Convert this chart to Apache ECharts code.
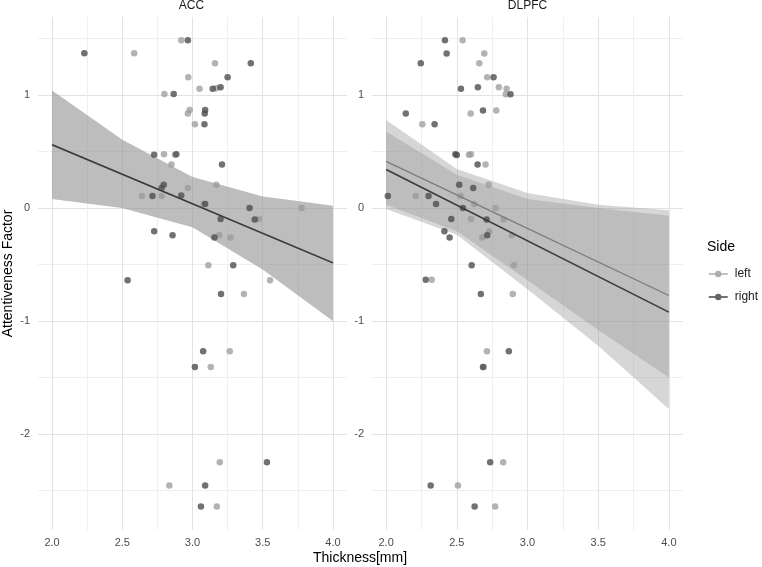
<!DOCTYPE html>
<html>
<head>
<meta charset="utf-8">
<script src="https://cdn.jsdelivr.net/npm/echarts@6/dist/echarts.min.js"></script>
<style>
  html, body { margin: 0; padding: 0; background: #fff; }
  #chart { width: 762px; height: 567px; }
</style>
</head>
<body>
<div id="chart"></div>
<script>
// facets and ticks
const panels = ["ACC", "DLPFC"];
const xLabelTicks = [2.0, 2.5, 3.0, 3.5, 4.0];
const xGridTicks = [2.0, 2.25, 2.5, 2.75, 3.0, 3.25, 3.5, 3.75, 4.0];
const yLabelTicks = [-2, -1, 0, 1];
const yGridTicks = [-2.5, -2, -1.5, -1, -0.5, 0, 0.5, 1, 1.5];

// ACC points [thickness, factor]
const accLeft = [
  [2.585, 1.37], [2.92, 1.485], [3.16, 1.28], [2.97, 1.156], [3.05, 1.056], [3.17, 1.06],
  [2.80, 1.009], [2.98, 0.868], [2.967, 0.835], [3.017, 0.741], [2.797, 0.475], [2.875, 0.47],
  [2.85, 0.385], [3.17, 0.205], [2.967, 0.176], [2.64, 0.106], [2.78, 0.106], [3.078, 0.035],
  [3.776, 0.0], [3.474, -0.097], [3.19, -0.242], [3.27, -0.262], [3.113, -0.506], [3.552, -0.639],
  [3.366, -0.762], [3.265, -1.268], [3.13, -1.407], [3.194, -2.25], [2.835, -2.457], [3.173, -2.643]
];
const accRight = [
  [2.23, 1.37], [2.967, 1.485], [3.415, 1.28], [3.25, 1.156], [3.144, 1.056], [3.20, 1.068],
  [2.866, 1.009], [3.09, 0.868], [3.087, 0.835], [3.085, 0.741], [2.727, 0.47], [2.885, 0.475],
  [3.21, 0.385], [2.795, 0.205], [2.78, 0.176], [2.715, 0.106], [2.92, 0.11], [3.09, 0.035],
  [3.406, 0.0], [3.20, -0.097], [3.443, -0.103], [2.727, -0.206], [2.858, -0.242], [3.156, -0.262],
  [3.29, -0.506], [2.538, -0.639], [3.203, -0.762], [3.076, -1.268], [3.017, -1.407], [3.53, -2.25],
  [3.09, -2.457], [3.06, -2.643]
];

// DLPFC points
const dlpfcLeft = [
  [2.541, 1.485], [2.694, 1.368], [2.659, 1.28], [2.715, 1.156], [2.797, 1.068], [2.852, 1.056],
  [2.847, 1.006], [2.598, 0.835], [2.779, 0.862], [2.256, 0.741], [2.586, 0.47], [2.60, 0.476],
  [2.703, 0.385], [2.725, 0.205], [2.21, 0.106], [2.527, 0.106], [2.623, 0.035], [2.774, 0.0],
  [2.60, -0.097], [2.831, -0.103], [2.729, -0.206], [2.68, -0.262], [2.889, -0.242], [2.905, -0.506],
  [2.322, -0.636], [2.896, -0.762], [2.713, -1.268], [2.69, -1.407], [2.828, -2.25], [2.508, -2.457],
  [2.771, -2.643]
];
const dlpfcRight = [
  [2.416, 1.485], [2.428, 1.368], [2.245, 1.28], [2.76, 1.156], [2.529, 1.056], [2.649, 1.068],
  [2.88, 1.006], [2.139, 0.835], [2.685, 0.862], [2.343, 0.741], [2.49, 0.476], [2.50, 0.468],
  [2.647, 0.385], [2.517, 0.205], [2.616, 0.176], [2.012, 0.106], [2.30, 0.106], [2.353, 0.035],
  [2.543, 0.0], [2.461, -0.097], [2.711, -0.103], [2.412, -0.206], [2.449, -0.262], [2.715, -0.242],
  [2.605, -0.506], [2.28, -0.636], [2.67, -0.762], [2.868, -1.268], [2.685, -1.407], [2.736, -2.25],
  [2.315, -2.457], [2.626, -2.643]
];

// fitted lines and confidence bands
const fitX = [2.0, 4.0];
const accLeftFit = [0.56, -0.486];
const accRightFit = [0.56, -0.486];
const dlpfcLeftFit = [0.413, -0.775];
const dlpfcRightFit = [0.34, -0.922];

const bandX = [2.0, 2.5, 3.0, 3.5, 4.0];
const accLeftUpper = [1.04, 0.603, 0.275, 0.102, 0.02];
const accLeftLower = [0.079, 0.0, -0.17, -0.545, -1.0];
const accRightUpper = [1.04, 0.603, 0.275, 0.102, 0.02];
const accRightLower = [0.079, 0.0, -0.17, -0.545, -1.0];
const dlpfcLeftUpper = [0.779, 0.344, 0.132, 0.029, -0.021];
const dlpfcLeftLower = [0.029, -0.206, -0.64, -1.08, -1.5];
const dlpfcRightUpper = [0.676, 0.294, 0.079, 0.0, -0.068];
const dlpfcRightLower = [-0.009, -0.236, -0.72, -1.22, -1.78];

const chart = echarts.init(document.getElementById("chart"));

const font = "Liberation Sans, Arial, sans-serif";
const leftPoint = "#999999";
const rightPoint = "#4d4d4d";
const leftLine = "#7a7a7a";
const rightLine = "#3a3a3a";

function scatter(data, idx, color, opacity) {
  return {
    type: "scatter", xAxisIndex: idx, yAxisIndex: idx, data: data,
    symbolSize: 6.5, silent: true,
    itemStyle: { color: color, opacity: opacity }
  };
}

// one polygon per ribbon, placed with the axis scales
function band(idx, lower, upper) {
  return {
    type: "custom", xAxisIndex: idx, yAxisIndex: idx, silent: true,
    data: bandX.map((x, i) => [x, lower[i], upper[i]]),
    encode: { x: 0, y: [1, 2] },
    renderItem: function (params, api) {
      if (params.dataIndex !== 0) return null;
      const pts = [];
      for (let i = 0; i < bandX.length; i++) pts.push(api.coord([bandX[i], upper[i]]));
      for (let i = bandX.length - 1; i >= 0; i--) pts.push(api.coord([bandX[i], lower[i]]));
      return {
        type: "polygon",
        shape: { points: pts },
        style: { fill: "rgba(153,153,153,0.4)", stroke: null }
      };
    }
  };
}

function fit(name, idx, values, color, width) {
  return {
    name: name, type: "line", xAxisIndex: idx, yAxisIndex: idx,
    data: fitX.map((x, i) => [x, values[i]]),
    symbol: "circle", showSymbol: false, silent: true,
    itemStyle: { color: color },
    lineStyle: { color: color, width: width }
  };
}

function xAxis(idx) {
  return {
    type: "value", gridIndex: idx, min: 1.9, max: 4.1,
    axisLine: { show: false },
    axisTick: { show: false, customValues: xGridTicks },
    axisLabel: {
      customValues: xLabelTicks, margin: 7,
      color: "#4d4d4d", fontSize: 11, fontFamily: font,
      formatter: v => v.toFixed(1)
    },
    splitLine: { show: true, lineStyle: { color: ["#e2e2e2", "#efefef"], width: 1 } }
  };
}

function yAxis(idx) {
  const ax = {
    type: "value", gridIndex: idx, min: -2.85, max: 1.69,
    axisLine: { show: false },
    axisTick: { show: false, customValues: yGridTicks },
    axisLabel: {
      customValues: yLabelTicks, margin: 8,
      color: "#4d4d4d", fontSize: 11, fontFamily: font
    },
    splitLine: { show: true, lineStyle: { color: ["#efefef", "#e2e2e2"], width: 1 } }
  };
  if (idx === 0) {
    ax.name = "Attentiveness Factor";
    ax.nameLocation = "middle";
    ax.nameGap = 23;
    ax.nameTextStyle = { fontSize: 14, color: "#000", fontFamily: font };
  }
  return ax;
}

const option = {
  animation: false,
  backgroundColor: "#ffffff",
  textStyle: { fontFamily: font },
  grid: [
    { left: 36, top: 17, width: 311, height: 513 },
    { left: 372, top: 17, width: 311, height: 513 }
  ],
  xAxis: [xAxis(0), xAxis(1)],
  yAxis: [yAxis(0), yAxis(1)],
  legend: {
    orient: "vertical", left: 703, top: 263, padding: 5,
    itemWidth: 19, itemHeight: 8, itemGap: 11,
    textStyle: { fontSize: 12, color: "#1a1a1a", fontFamily: font, padding: [0, 0, 0, 2] },
    selectedMode: false,
    data: [
      { name: "left", itemStyle: { color: "#adadad" }, lineStyle: { color: "#adadad", width: 1.5 } },
      { name: "right", itemStyle: { color: "#666666" }, lineStyle: { color: "#444444", width: 1.5 } }
    ]
  },
  graphic: [
    { type: "text", x: 191.5, y: 6, style: { text: panels[0], fill: "#1a1a1a", font: "12px " + font, textAlign: "center", textVerticalAlign: "middle" } },
    { type: "text", x: 527.5, y: 6, style: { text: panels[1], fill: "#1a1a1a", font: "12px " + font, textAlign: "center", textVerticalAlign: "middle" } },
    { type: "text", x: 360, y: 558, style: { text: "Thickness[mm]", fill: "#000", font: "14px " + font, textAlign: "center", textVerticalAlign: "middle" } },
    { type: "text", x: 707, y: 247, style: { text: "Side", fill: "#000", font: "14px " + font, textAlign: "left", textVerticalAlign: "middle" } }
  ],
  series: [
    scatter(accLeft, 0, leftPoint, 0.75),
    scatter(accRight, 0, rightPoint, 0.8),
    scatter(dlpfcLeft, 1, leftPoint, 0.75),
    scatter(dlpfcRight, 1, rightPoint, 0.8),
    band(0, accLeftLower, accLeftUpper),
    band(0, accRightLower, accRightUpper),
    band(1, dlpfcLeftLower, dlpfcLeftUpper),
    band(1, dlpfcRightLower, dlpfcRightUpper),
    fit("left", 0, accLeftFit, leftLine, 1.3),
    fit("right", 0, accRightFit, rightLine, 1.5),
    fit("left", 1, dlpfcLeftFit, leftLine, 1.3),
    fit("right", 1, dlpfcRightFit, rightLine, 1.5)
  ]
};

chart.setOption(option);

window.addEventListener("resize", () => chart.resize());
</script>
</body>
</html>
